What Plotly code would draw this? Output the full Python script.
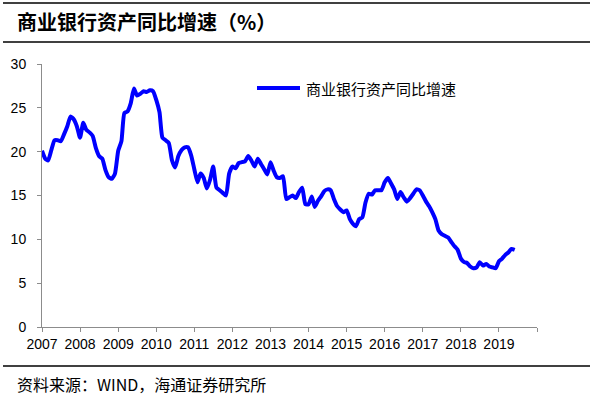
import plotly.graph_objects as go
import pandas as pd

# Monthly YoY growth of commercial bank assets (%), Jan 2007 onward
values = [
    20.1, 19.2, 19.0, 20.2, 21.3, 21.3, 21.2, 22.0, 22.9, 24.0, 23.7, 22.9,   # 2007
    21.6, 23.3, 22.5, 22.2, 21.8, 20.4, 19.5, 19.2, 17.9, 17.1, 16.9, 17.5,   # 2008
    20.1, 21.2, 24.4, 24.6, 25.5, 27.2, 26.4, 26.6, 26.9, 26.8, 27.0, 26.9,   # 2009
    25.9, 24.5, 21.6, 21.3, 21.0, 19.0, 18.2, 19.5, 20.2, 20.5, 20.5, 19.6,   # 2010
    18.0, 16.5, 17.5, 17.0, 15.8, 16.8, 18.3, 15.9, 15.6, 15.3, 15.0, 17.5,   # 2011
    18.3, 18.1, 18.7, 18.8, 18.9, 19.5, 19.0, 18.3, 19.2, 18.6, 18.0, 17.4,   # 2012
    18.8, 17.8, 17.1, 17.0, 17.2, 14.6, 14.8, 15.0, 14.7, 15.4, 15.9, 14.0,   # 2013
    14.0, 14.9, 13.7, 14.4, 14.9, 15.5, 15.7, 15.6, 14.6, 13.8, 13.4, 13.1,   # 2014
    13.3, 12.3, 11.8, 11.5, 12.3, 12.5, 14.2, 15.2, 15.1, 15.6, 15.6, 15.6,   # 2015
    16.5, 17.0, 16.4, 15.7, 14.6, 15.4, 14.8, 14.3, 14.7, 15.2, 15.7, 15.6,   # 2016
    15.0, 14.3, 13.8, 13.1, 12.3, 11.0, 10.6, 10.4, 10.2, 9.7, 9.2, 8.8,      # 2017
    7.8, 7.4, 7.3, 6.9, 6.7, 6.8, 7.4, 7.0, 7.2, 6.9, 6.8, 6.7,               # 2018
    7.5, 7.8, 8.2, 8.5, 8.9, 8.8,                                             # 2019
]
dates = pd.date_range("2007-01-01", periods=len(values), freq="MS")

series_name = "商业银行资产同比增速"
title_text = "商业银行资产同比增速（%）"
source_text = "资料来源：WIND，海通证券研究所"

year_ticks = [f"{y}-01-01" for y in range(2007, 2021)]
year_labels = [str(y) for y in range(2007, 2020)] + [""]
y_ticks = [0, 5, 10, 15, 20, 25, 30]

W, H = 592, 395
L, R, T, B = 42, 537, 64, 327


def px(xp):
    return (xp - L) / (R - L)


def py(yp):
    return (B - yp) / (B - T)


fig = go.Figure()
fig.add_trace(go.Scatter(
    x=dates, y=values, mode="lines", name=series_name,
    line=dict(color="#0000FF", width=4, shape="spline", smoothing=0.5),
    showlegend=False,
))

axis_col = "#8C8C8C"
fig.update_layout(
    width=W, height=H,
    margin=dict(l=L, r=W - R, t=T, b=H - B),
    paper_bgcolor="white", plot_bgcolor="white",
    font=dict(family="Liberation Sans, Arial, sans-serif", size=14, color="black"),
    xaxis=dict(
        type="date", range=["2007-01-01", "2020-01-01"],
        tickvals=year_ticks, ticktext=year_labels,
        showgrid=False, zeroline=False,
        showline=True, linecolor=axis_col, linewidth=1,
        ticks="outside", ticklen=4, tickcolor=axis_col,
        tickfont=dict(size=14),
    ),
    yaxis=dict(
        range=[0, 30], tickvals=y_ticks,
        showgrid=False, zeroline=False,
        showline=True, linecolor=axis_col, linewidth=1,
        ticks="outside", ticklen=4, tickcolor=axis_col,
        tickfont=dict(size=14), ticklabelstandoff=8,
    ),
)

# decorative rules
for yp in (3, 42, 366):
    fig.add_shape(type="line", xref="paper", yref="paper",
                  x0=px(3), x1=px(590), y0=py(yp), y1=py(yp),
                  line=dict(color="black", width=1.5))

# legend (manual)
fig.add_shape(type="line", xref="paper", yref="paper",
              x0=px(257), x1=px(300), y0=py(88), y1=py(88),
              line=dict(color="#0000FF", width=4))
fig.add_annotation(xref="paper", yref="paper", x=px(304), y=py(88),
                   xanchor="left", yanchor="middle", showarrow=False,
                   text=series_name,
                   font=dict(family="Noto Sans CJK SC", size=15, color="black"))

fig.add_annotation(xref="paper", yref="paper", x=px(15), y=py(22),
                   xanchor="left", yanchor="middle", showarrow=False,
                   text="<b>" + title_text + "</b>",
                   font=dict(family="Noto Sans CJK SC", size=20, color="black"))
fig.add_annotation(xref="paper", yref="paper", x=px(15), y=py(384),
                   xanchor="left", yanchor="middle", showarrow=False,
                   text=source_text,
                   font=dict(family="Noto Sans CJK SC", size=16, color="black"))

fig.write_html("out.html", config={"displayModeBar": False},
               post_script="document.body.style.margin='0';document.body.style.overflow='hidden';")
